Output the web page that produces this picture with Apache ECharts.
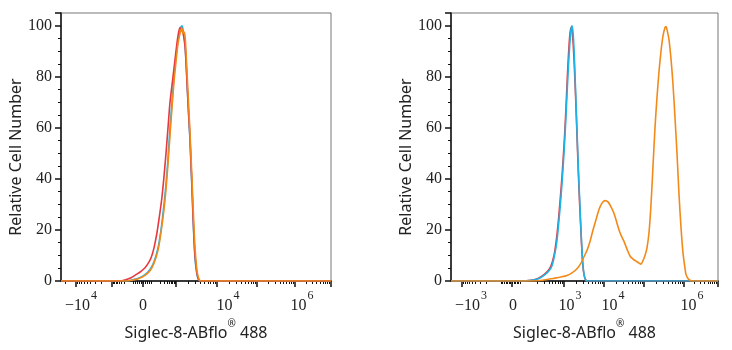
<!DOCTYPE html>
<html>
<head>
<meta charset="utf-8">
<script src="https://cdn.jsdelivr.net/npm/echarts@6/dist/echarts.min.js"></script>
<style>
  html, body { margin: 0; padding: 0; background: #fff; }
  #chart { width: 732px; height: 350px; }
</style>
</head>
<body>
<div id="chart"></div>
<script>
// x values are display channels along the biexponential axis (left 0-270, right 0-267)
var leftMax = 270;
var rightMax = 267;

// left panel histograms
var leftRed = [[0,0],[58,0],[64,0.4],[70,1.3],[75,2.5],[80,3.8],[84,5.2],[87,6.8],[90,9],[93,13],[96,19],[99,27],[101,33],[103,41],[105,50],[107,60],[109,70],[112,80],[115,90],[117,96],[119,99.3],[121,98],[122,97],[123,95],[124,92],[125,86],[126,78],[127,70],[128,63],[129,56],[130,46],[131,37],[132,26],[133,17],[134,10],[135,6],[136,3],[137,1.2],[138,0.4],[139,0],[270,0]];
var leftCyan = [[0,0],[66,0],[72,0.5],[78,1.2],[84,2.5],[89,4.5],[93,7.5],[97,13],[100,20],[103,30],[105,38],[107,48],[109,60],[111,70],[113,80],[115,88],[117,94],[119,98],[120,99.5],[121,100],[122,98.5],[123,96],[124,93],[125,86],[126,78],[127,70],[128,62],[129,55],[130,45],[131,36],[132,25],[133,16],[134,9],[135,5],[136,2.5],[137,1],[138,0.3],[139,0],[270,0]];
var leftOrange = [[0,0],[66,0],[72,0.4],[78,1],[84,2.2],[89,4],[93,7],[97,12],[100,19],[103,28],[105,36],[107,46],[109,57],[111,68],[113,78],[115,86],[117,93],[119,97],[120,98.5],[121,99],[122,97],[123,97.5],[124,96],[125,90],[126,82],[127,74],[128,66],[129,58],[130,49],[131,40],[132,30],[133,21],[134,13],[135,8],[136,4],[137,2],[138,0.8],[139,0.2],[140,0],[270,0]];

// right panel histograms
var rightRed = [[0,0],[70,0],[80,0.3],[87,1],[93,2.5],[97,4],[100,6],[103,10],[105,15],[107,22],[109,31],[111,41],[113,53],[114,60],[115,68],[116,77],[117,85],[118,92],[119,97],[120,99.3],[121,98],[122,94],[123,87],[124,78],[125,68],[126,57],[127,46],[128,36],[129,27],[130,19],[131,11],[132,5.5],[133,2.5],[134,1],[135,0.3],[136,0],[267,0]];
var rightCyan = [[0,0],[70,0],[81,0.3],[88,1],[94,2.5],[98,4],[101,6],[104,11],[106,16],[108,24],[110,33],[112,44],[114,57],[115,65],[116,73],[117,81],[118,88],[119,94],[120,98.5],[121,100],[122,97.5],[123,91],[124,81],[125,70],[126,59],[127,48],[128,38],[129,29],[130,20],[131,12],[132,6],[133,2.8],[134,1.1],[135,0.3],[136,0],[267,0]];
var rightOrange = [[0,0],[82,0],[95,0.5],[102,1],[110,1.6],[116,2.2],[121,3.2],[126,4.8],[130,7],[133,9.5],[136,12],[139,15.5],[142,20],[145,24],[148,28],[151,30.5],[154,31.5],[157,31],[160,29],[163,26.5],[165,24],[168,20],[170,18],[173,15.5],[176,12.5],[179,9.8],[182,8.6],[185,7.8],[188,7],[190,6.6],[192,8],[194,10],[196,13],[198,19],[200,30],[202,45],[204,60],[206,72],[208,82],[210,90],[212,96],[214,99.3],[215,99.7],[216,98.5],[218,94.5],[220,87],[222,77],[224,64],[226,50],[228,34],[230,21],[232,11],[234,5],[235,2.6],[237,1],[239,0.3],[242,0],[267,0]];

// tick labels
var leftLabelPos = [20, 82, 167, 241];
var leftLabelText = [['−10','4'], ['0',''], ['10','4'], ['10','6']];
var rightLabelPos = [20, 62, 119, 162, 241];
var rightLabelText = [['−10','3'], ['0',''], ['10','3'], ['10','4'], ['10','6']];

var leftMajor = [15, 51, 82, 115, 156, 196, 234, 270];
var rightMajor = [11, 61, 113, 153, 193, 233, 267];

function upLog(a, b) {
    var out = [];
    for (var m = 2; m <= 9; m++) out.push(a + (b - a) * Math.log10(m));
    return out;
}
function downLog(a, b) {
    var out = [];
    for (var m = 2; m <= 9; m++) out.push(b - (b - a) * Math.log10(m));
    return out;
}
function even(a, b, step) {
    var out = [];
    for (var v = a; v <= b; v += step) out.push(v);
    return out;
}

var leftMinor = [].concat(
    downLog(-21, 15), downLog(15, 51), downLog(51, 68), even(72, 90, 2),
    upLog(92, 115), upLog(115, 156), upLog(156, 196), upLog(196, 234), upLog(234, 270)
).filter(function (v) { return v > 0 && v < leftMax; });
var rightMinor = [].concat(
    downLog(11, 45), even(50, 70, 1.6),
    upLog(75, 113), upLog(113, 153), upLog(153, 193), upLog(193, 233), upLog(233, 267)
).filter(function (v) { return v > 0 && v < rightMax; });

var serif = 'serif';
var sans = 'Noto Sans';

function labelFmt(pos, txt) {
    return function (v) {
        var i = pos.indexOf(v);
        if (i < 0) return '';
        return txt[i][1] ? '{b|' + txt[i][0] + '}{s|' + txt[i][1] + '}' : '{b|' + txt[i][0] + '}';
    };
}

function xAxes(grid, max, labelPos, labelText, major, minor) {
    var base = { type: 'value', gridIndex: grid, min: 0, max: max, position: 'bottom', splitLine: { show: false } };
    return [
        Object.assign({}, base, {
            name: '{n|Siglec-8-ABflo}{r|®}{n| 488}',
            nameLocation: 'middle',
            nameGap: 38,
            nameTextStyle: {
                rich: {
                    n: { fontFamily: sans, fontSize: 16, color: '#222', verticalAlign: 'bottom', lineHeight: 22 },
                    r: { fontFamily: sans, fontSize: 10, color: '#222', verticalAlign: 'top' }
                }
            },
            axisLine: { lineStyle: { color: '#111', width: 1.5 } },
            axisTick: { show: false },
            axisLabel: {
                customValues: labelPos,
                margin: 9,
                formatter: labelFmt(labelPos, labelText),
                rich: {
                    b: { fontFamily: serif, fontSize: 16, color: '#222', lineHeight: 24, verticalAlign: 'bottom' },
                    s: { fontFamily: serif, fontSize: 12, color: '#222', verticalAlign: 'top', padding: [0, 0, 0, 1] }
                }
            }
        }),
        Object.assign({}, base, {
            axisLine: { show: false },
            axisLabel: { show: false },
            axisTick: { customValues: major, length: 6, lineStyle: { color: '#111', width: 1.5 } }
        }),
        Object.assign({}, base, {
            axisLine: { show: false },
            axisLabel: { show: false },
            axisTick: { customValues: minor, length: 3, lineStyle: { color: '#111', width: 1 } }
        })
    ];
}

function yAxis(grid, gap) {
    return {
        type: 'value',
        gridIndex: grid,
        min: 0,
        max: 105,
        interval: 20,
        name: 'Relative Cell Number',
        nameLocation: 'middle',
        nameGap: gap,
        nameTextStyle: { fontFamily: sans, fontSize: 16, color: '#222', padding: [0, 20, 0, 0] },
        axisLine: { show: true, lineStyle: { color: '#111', width: 1.5 } },
        axisTick: { show: true, length: 6, lineStyle: { color: '#111', width: 1.5 } },
        minorTick: { show: true, splitNumber: 4, length: 3, lineStyle: { color: '#111', width: 1 } },
        splitLine: { show: false },
        axisLabel: {
            margin: 9,
            fontFamily: serif,
            fontSize: 16,
            color: '#222',
            formatter: function (v) { return v > 100 ? '' : v; }
        }
    };
}

function line(data, color, xi, yi) {
    return {
        type: 'line',
        data: data,
        xAxisIndex: xi,
        yAxisIndex: yi,
        showSymbol: false,
        smooth: 0.3,
        lineStyle: { color: color, width: 1.6 },
        emphasis: { disabled: true }
    };
}

var red = '#e8383f';
var cyan = '#1db3e6';
var orange = '#f28a1a';

var chart = echarts.init(document.getElementById('chart'));
chart.setOption({
    animation: false,
    backgroundColor: '#fff',
    grid: [
        { left: 61, top: 13, width: 270, height: 268, show: true, borderColor: '#777', borderWidth: 1 },
        { left: 451, top: 13, width: 267, height: 268, show: true, borderColor: '#777', borderWidth: 1 }
    ],
    xAxis: [].concat(
        xAxes(0, leftMax, leftLabelPos, leftLabelText, leftMajor, leftMinor),
        xAxes(1, rightMax, rightLabelPos, rightLabelText, rightMajor, rightMinor)
    ),
    yAxis: [yAxis(0, 35), yAxis(1, 37)],
    series: [
        line(leftCyan, cyan, 0, 0),
        line(leftRed, red, 0, 0),
        line(leftOrange, orange, 0, 0),
        line(rightRed, red, 3, 1),
        line(rightCyan, cyan, 3, 1),
        line(rightOrange, orange, 3, 1)
    ]
});
</script>
</body>
</html>
